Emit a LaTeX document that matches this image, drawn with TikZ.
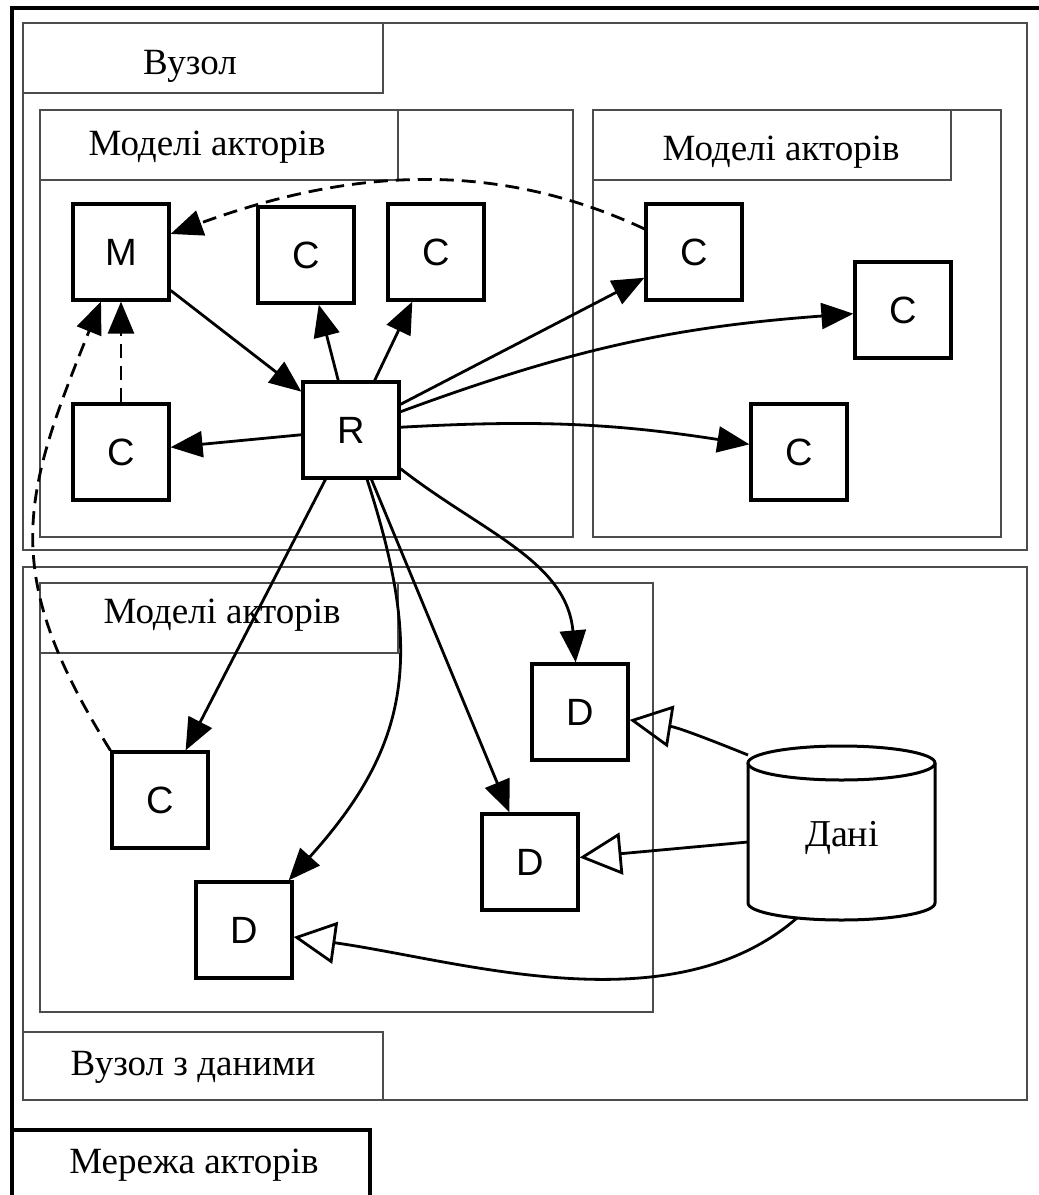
\documentclass[tikz,border=0pt]{standalone}
\usepackage{fontspec}
\setmainfont{Liberation Serif}
\setsansfont{Liberation Sans}
\usetikzlibrary{arrows.meta}
\begin{document}
\begin{tikzpicture}[x=0.5pt,y=0.5pt,
  frame/.style={draw=black!70, line width=1pt},
  heavy/.style={draw=black, line width=1.6pt},
  caption/.style={font=\fontsize{18.5}{20}\selectfont, anchor=base, inner sep=0pt},
  actor/.style={draw, line width=1.6pt, fill=white, minimum width=48pt, minimum height=48pt,
                inner sep=0pt, font=\sffamily\fontsize{19}{20}\selectfont},
  link/.style={line width=1.4pt, -{Triangle[length=16pt,width=13pt]}},
  weak/.style={link, dash pattern=on 7pt off 4pt},
  feed/.style={line width=1.4pt, -{Triangle[open,length=21pt,width=21pt]}},
]
\useasboundingbox (0,0) rectangle (1039,-1195);
\fill[white] (0,0) rectangle (1039,-1195);

% actor network frame
\draw[heavy] (12,-1130) -- (12,-8) -- (1045,-8);
\draw[heavy] (12,-1200) -- (12,-1130) -- (370,-1130) -- (370,-1200);
\node[caption] (netcap) at (194,-1173) {Мережа акторів};

% node with its two actor-model groups
\draw[frame] (23,-23) rectangle (1027,-550);
\draw[frame] (23,-23) rectangle (383,-93);
\node[caption] (nodecap) at (190,-74) {Вузол};

\draw[frame] (40,-110) rectangle (573,-537);
\draw[frame] (40,-110) rectangle (398,-180);
\node[caption] (modcapA) at (207,-155) {Моделі акторів};

\draw[frame] (593,-110) rectangle (1001,-537);
\draw[frame] (593,-110) rectangle (951,-180);
\node[caption] (modcapB) at (781,-160) {Моделі акторів};

% data node with its actor-model group
\draw[frame] (23,-567) rectangle (1027,-1100);
\draw[frame] (23,-1032) rectangle (383,-1100);
\node[caption] (datacap) at (193,-1075) {Вузол з даними};

\draw[frame] (40,-583) rectangle (653,-1012);
\draw[frame] (40,-583) rectangle (398,-653);
\node[caption] (modcapC) at (222,-623) {Моделі акторів};

% actors
\node[actor] (M)  at (121,-252) {M};
\node[actor] (c1) at (306,-255) {C};
\node[actor] (c2) at (436,-252) {C};
\node[actor] (c3) at (694,-252) {C};
\node[actor] (c4) at (903,-310) {C};
\node[actor] (c5) at (799,-452) {C};
\node[actor] (cl) at (121,-452) {C};
\node[actor] (R)  at (351,-430) {R};
\node[actor] (cb) at (160,-800) {C};
\node[actor] (d1) at (580,-712) {D};
\node[actor] (d2) at (530,-862) {D};
\node[actor] (d3) at (244,-930) {D};

% data store (cylinder)
\fill[white] (748,-763) -- (748,-903) arc[start angle=180, end angle=360, x radius=93.5, y radius=17]
  -- (935,-763) -- cycle;
\draw[line width=1.5pt] (748,-763) -- (748,-903) arc[start angle=180, end angle=360, x radius=93.5, y radius=17]
  -- (935,-763);
\draw[line width=1.5pt, fill=white] (841.5,-763) ellipse[x radius=93.5, y radius=17];
\node[font=\fontsize{19}{20}\selectfont, minimum width=93.5pt, minimum height=86pt, inner sep=0pt]
  (data) at (842,-838) {Дані};
\coordinate (dA) at (748,-755);
\coordinate (dB) at (748,-842);
\coordinate (dC) at (797,-918);

% message links
\draw[link] (M) -- (R);
\draw[link] (R) -- (c1);
\draw[link] (R) -- (c2);
\draw[link] (R) -- (cl);
\draw[link] (R) -- (c3);
\draw[link] (R) to[bend left=8] (c4);
\draw[link] (R) to[bend left=6] (c5);
\draw[link] (R) to[out=-38, in=95] (d1);
\draw[link] (R) -- (d2);
\draw[link] (R) to[out=-72, in=48, looseness=1.15] (d3);
\draw[link] (R) -- (cb);

% reports back to the manager
\draw[weak] (c3) to[out=155, in=20, looseness=0.95] (M);
\draw[weak] (cl) -- (M);
\draw[weak] (cb.north west) to[out=122, in=-112, looseness=1.2] (M);

% data feeds
\draw[feed] (dA) to[out=158, in=-9] (d1);
\draw[feed] (dB) -- (d2);
\draw[feed] (dC) to[out=-139, in=-8, looseness=0.85] (d3);
\end{tikzpicture}
\end{document}
